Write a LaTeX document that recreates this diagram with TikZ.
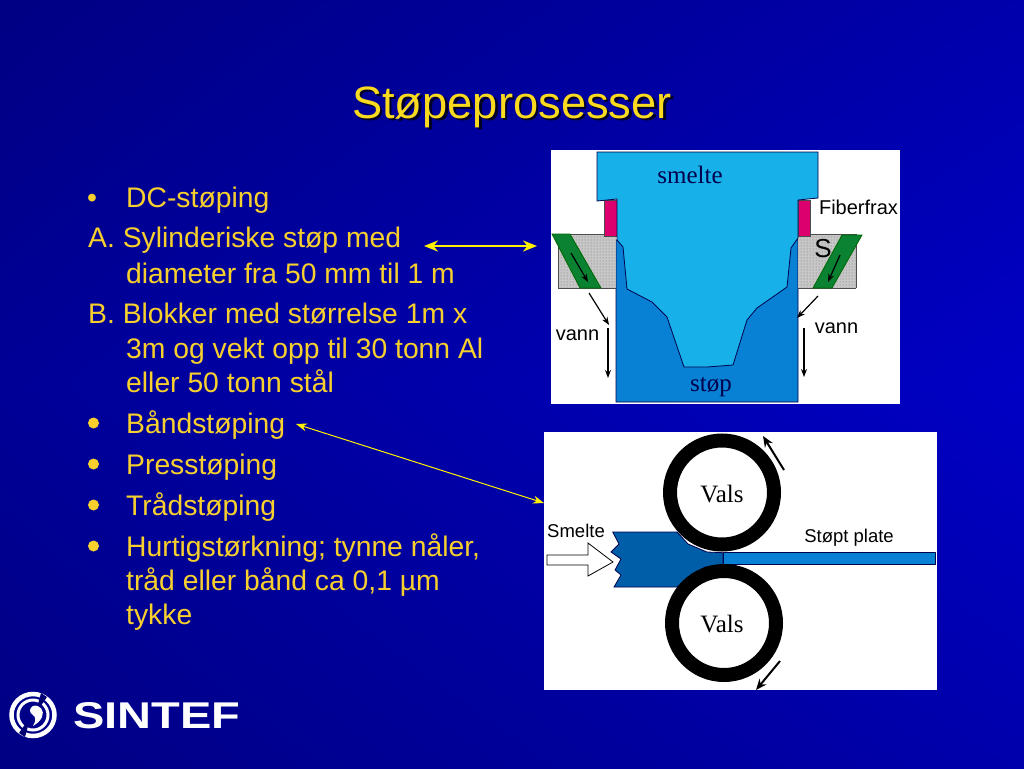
\documentclass[tikz,border=0pt]{standalone}
\usepackage{fontspec}
\usepackage{graphicx}
\setmainfont{Liberation Sans}
\newfontfamily\serifface{Liberation Serif}
\usetikzlibrary{arrows.meta,patterns,calc}
\definecolor{slidenavy}{RGB}{0,0,115}
\definecolor{titleyel}{RGB}{250,218,30}
\definecolor{bodyyel}{RGB}{248,208,45}
\definecolor{meltblue}{RGB}{24,176,232}
\definecolor{castblue}{RGB}{8,128,212}
\definecolor{stripblue}{RGB}{0,94,168}
\definecolor{pinkfib}{RGB}{220,0,110}
\definecolor{greenwater}{RGB}{10,130,50}
\pgfdeclarefunctionalshading{slidebg}{\pgfpoint{-50bp}{-50bp}}{\pgfpoint{50bp}{50bp}}{}{
  abs 50 div exch 50 add 100 div
  0.36 mul 0.50 add exch 0.25 mul 1 exch sub mul
  0 0 3 2 roll
}
\tikzset{
  x=1pt,y=-1pt,
  bodytext/.style={text=bodyyel,anchor=base west,inner sep=0pt,font=\fontsize{28.3}{28}\selectfont},
  bulletdot/.style={circle,fill=bodyyel,inner sep=0pt,minimum size=11pt},
  sanslabel/.style={inner sep=0pt,text=black,font=\fontsize{18.5}{20}\selectfont},
  biglabel/.style={inner sep=0pt,text=black,font=\fontsize{20}{22}\selectfont},
  seriflabel/.style={inner sep=0pt,text=black!70!blue,font=\serifface\fontsize{25}{26}\selectfont},
  valslabel/.style={inner sep=0pt,text=black,font=\serifface\fontsize{25}{26}\selectfont},
  outlined/.style={draw=black!70!blue,line width=0.8pt},
  blackarrow/.style={draw=black,line width=1.2pt,-{Stealth[length=8pt,width=6pt]}},
  thickarrow/.style={draw=black,line width=2pt,-{Stealth[length=11pt,width=9pt]}},
  ring/.style={circle,draw=black,line width=14pt,fill=white,minimum size=104pt,inner sep=0pt},
}
\begin{document}
\begin{tikzpicture}
\useasboundingbox (0,0) rectangle (1024,768);
% background
\shade[shading=slidebg] (0,0) rectangle (1024,768);
% title
\node[inner sep=0pt,text=black!85!blue,font=\fontsize{45.3}{46}\selectfont] (titleshadow) at (514.5,109) {Støpeprosesser};
\node[inner sep=0pt,text=titleyel,font=\fontsize{45.3}{46}\selectfont] (title) at (512,107) {Støpeprosesser};
% bullets
\node[bodytext] (dcdot) at (87,207) {•};
\node[bodytext] (t1) at (126,207) {DC-støping};
\node[bodytext] (t2) at (88,247) {A. Sylinderiske støp med};
\node[bodytext] (t3) at (126,283) {diameter fra 50 mm til 1 m};
\node[bodytext] (t4) at (88,323) {B. Blokker med størrelse 1m x};
\node[bodytext] (t5) at (126,358) {3m og vekt opp til 30 tonn Al};
\node[bodytext] (t6) at (126,392) {eller 50 tonn stål};
\node[bulletdot] (d1) at (93.5,423) {};
\node[bodytext] (t7) at (126,433) {Båndstøping};
\node[bulletdot] (d2) at (93.5,464) {};
\node[bodytext] (t8) at (126,474) {Presstøping};
\node[bulletdot] (d3) at (93.5,505) {};
\node[bodytext] (t9) at (126,515) {Trådstøping};
\node[bulletdot] (d4) at (93.5,546) {};
\node[bodytext] (t10) at (126,556) {Hurtigstørkning; tynne nåler,};
\node[bodytext] (t11) at (126,590) {tråd eller bånd ca 0,1 µm};
\node[bodytext] (t12) at (126,624) {tykke};
% upper panel
\fill[white] (551,150) rectangle (900,404);
\draw[outlined,fill=castblue] (616,240) -- (616,402) -- (798,402) -- (798,238) -- cycle;
\foreach \a/\b in {558/616,798/856}{
  \fill[black!22] (\a,234) rectangle (\b,288);
  \fill[pattern=dots,pattern color=black!55] (\a,234) rectangle (\b,288);
  \draw[black!70,line width=1pt] (\a,288) -- (\b,288);
  \draw[black!70,line width=1pt] (\a,234) -- (\b,234);
}
\draw[black!70,line width=0.8pt] (558,234) -- (558,288);
\draw[black!70,line width=0.8pt] (856,234) -- (856,288);
\draw[outlined,draw=black!60!green,fill=greenwater] (552,234) -- (570,234) -- (601,288) -- (580,288) -- cycle;
\draw[outlined,draw=black!60!green,fill=greenwater] (842,235) -- (862,235) -- (832,288) -- (813,288) -- cycle;
\fill[pinkfib] (604,200) rectangle (617,236);
\fill[pinkfib] (798,200) rectangle (810,236);
\draw[black!70,line width=0.6pt] (604,200) rectangle (617,236) (798,200) rectangle (810,236);
\draw[outlined,fill=meltblue] (597,152) -- (818,152) -- (818,198) -- (798,200) -- (798,238) -- (791,248) -- (787,287) -- (757,308) -- (747,320) -- (733,365) -- (707,367) -- (684,367) -- (667,317) -- (652,302) -- (627,289) -- (623,247) -- (617,240) -- (617,199) -- (597,201) -- cycle;
\coordinate (la1) at (571,253); \coordinate (la2) at (588,282);
\coordinate (ra1) at (840,255); \coordinate (ra2) at (828,282);
\coordinate (lb1) at (589,293); \coordinate (lb2) at (609,325);
\coordinate (lc1) at (608,328); \coordinate (lc2) at (608,378);
\coordinate (rb1) at (818,296); \coordinate (rb2) at (797,318);
\coordinate (rc1) at (804,328); \coordinate (rc2) at (804,377);
\foreach \p/\q in {la1/la2,ra1/ra2,lb1/lb2,lc1/lc2,rb1/rb2,rc1/rc2}{\draw[blackarrow] (\p) -- (\q);}
\node[seriflabel] (smelteA) at (690,175) {smelte};
\node[seriflabel] (stop) at (711,387) {støp};
\node[biglabel] (fiber) at (858.5,207) {Fiberfrax};
\node[biglabel] (vannL) at (577.5,335) {vann};
\node[biglabel] (vannR) at (836.5,328) {vann};
\node[inner sep=0pt,text=black,font=\fontsize{26}{27}\selectfont] (ess) at (823,249) {S};
% lower panel
\fill[white] (544,432) rectangle (937,690);
\draw[outlined,fill=castblue] (723,552.7) rectangle (935,564.7);
\draw[outlined,fill=stripblue] (612.7,532) -- (677,532) -- (688,544) -- (707,552) -- (723,552.7) -- (723,564.5) -- (705,567) -- (677,587) -- (614,587) -- (621,575) -- (615,570) -- (621,559) -- (611,552) -- (619,544) -- cycle;
\node[ring] (valsTop) at (722,492.5) {};
\node[ring] (valsBot) at (724,623) {};
\node[valslabel] (vt) at (722,494) {Vals};
\node[valslabel] (vb) at (722,624) {Vals};
\draw[draw=black,line width=0.8pt,fill=white] (547,555) -- (588,555) -- (588,543) -- (613,562) -- (588,576) -- (588,565) -- (547,565) -- cycle;
\coordinate (ta1) at (784,470); \coordinate (ta2) at (763,436);
\coordinate (tb1) at (780,661); \coordinate (tb2) at (756,690);
\draw[thickarrow] (ta1) -- (ta2);
\draw[thickarrow] (tb1) -- (tb2);
\node[sanslabel] (smelteB) at (576,531) {Smelte};
\node[sanslabel] (plate) at (849,537.5) {Støpt plate};
% yellow connectors
\coordinate (ya1) at (424,246); \coordinate (ya2) at (537,246);
\coordinate (yb1) at (296,424); \coordinate (yb2) at (544,503);
\draw[draw=yellow,line width=2.4pt,{Stealth[length=14pt,width=11pt]}-{Stealth[length=14pt,width=11pt]}] (ya1) -- (ya2);
\draw[draw=yellow,line width=1pt,{Stealth[length=11pt,width=8pt]}-{Stealth[length=11pt,width=8pt]}] (yb1) -- (yb2);
% logo
\draw[white,line width=4.5pt] (33,715) ellipse (21.5 and 21);
\draw[white,line width=3pt] (33,715) ellipse (15 and 15);
\fill[slidenavy] (41,693) -- (47,697) -- (40,707) -- (38,704) -- cycle;
\fill[slidenavy] (25,737) -- (19,733) -- (26,723) -- (28,726) -- cycle;
\fill[white] (33,706) .. controls (40,704) and (45,711) .. (42,717) .. controls (40,722) and (36,724) .. (33,726) .. controls (36,721) and (36,717) .. (33,715) .. controls (29,713) and (29,708) .. (33,706) -- cycle;
\node[inner sep=0pt,anchor=west,text=white] (sintef) at (73,716) {\resizebox{167pt}{26pt}{\textbf{SINTEF}}};
\end{tikzpicture}
\end{document}
